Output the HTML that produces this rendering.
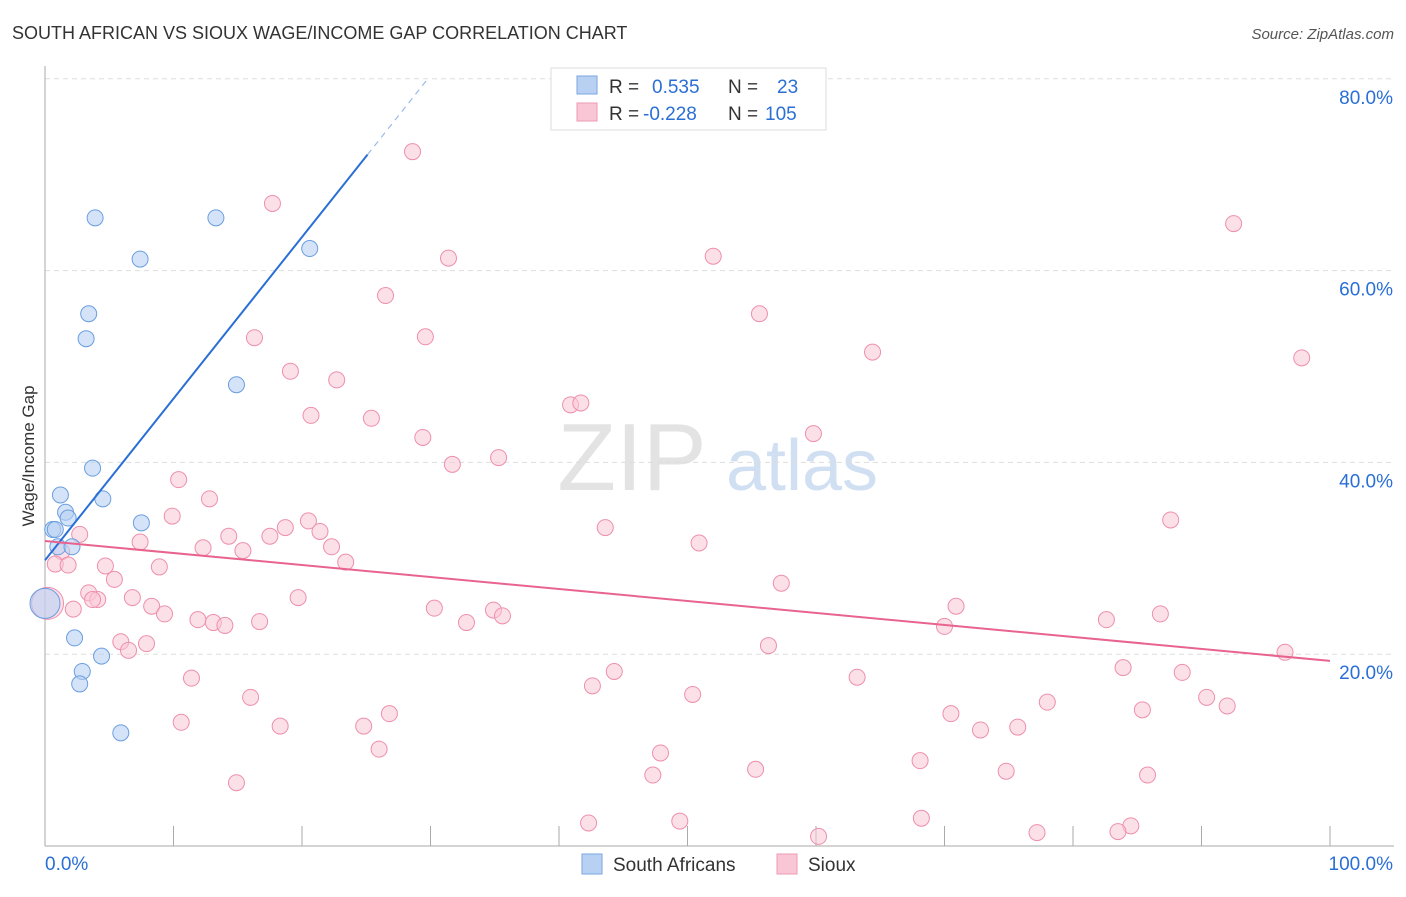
<!DOCTYPE html>
<html><head><meta charset="utf-8"><style>
body{margin:0;background:#fff;font-family:"Liberation Sans",sans-serif}
svg text{font-family:"Liberation Sans",sans-serif}
</style></head><body>
<svg id="chart" width="1406" height="892" viewBox="0 0 1406 892" xmlns="http://www.w3.org/2000/svg">
<text x="12" y="39" font-size="18" fill="#333">SOUTH AFRICAN VS SIOUX WAGE/INCOME GAP CORRELATION CHART</text>
<text x="1394" y="39" font-size="15" fill="#555" text-anchor="end" font-style="italic">Source: ZipAtlas.com</text>
<g>
<text x="632" y="490" font-size="96" fill="#ddd" text-anchor="middle" font-family="Liberation Serif" opacity="0.8">ZIP</text>
<text x="802" y="490" font-size="72" fill="#c5d8ef" text-anchor="middle" opacity="0.8">atlas</text>
</g>
<g id="grid"></g>
<g id="axes"></g>
<g id="pts"></g>
<g id="trends"></g>
<text transform="translate(34,456) rotate(-90)" font-size="17" fill="#333" text-anchor="middle">Wage/Income Gap</text>
<g>
<rect x="551" y="68" width="275" height="62" fill="#fff" stroke="#ddd"/>
<g>
<rect x="577" y="76" width="20" height="18" fill="#b8d1f3" stroke="#7aa6e0"/>
<text x="609" y="93" font-size="19" fill="#333">R =</text>
<text x="652" y="93" font-size="19" fill="#2a6fd6">0.535</text>
<text x="728" y="93" font-size="19" fill="#333">N =</text>
<text x="777" y="93" font-size="19" fill="#2a6fd6">23</text>
</g>
<g>
<rect x="577" y="103" width="20" height="18" fill="#f9c6d5" stroke="#ee9ab3"/>
<text x="609" y="120" font-size="19" fill="#333">R =</text>
<text x="643" y="120" font-size="19" fill="#2a6fd6">-0.228</text>
<text x="728" y="120" font-size="19" fill="#333">N =</text>
<text x="765" y="120" font-size="19" fill="#2a6fd6">105</text>
</g>
</g>
<g>
<rect x="582" y="854" width="20" height="20" fill="#b8d1f3" stroke="#7aa6e0"/>
<text x="613" y="871" font-size="19" fill="#333">South Africans</text>
<rect x="777" y="854" width="20" height="20" fill="#f9c6d5" stroke="#ee9ab3"/>
<text x="808" y="871" font-size="19" fill="#333">Sioux</text>
</g>
</svg>
<script>
const xTicks=[0,10,20,30,40,50,60,70,80,90,100];
const yTicks=[20,40,60,80];
const saX=[3.9,13.3,7.4,20.6,3.4,3.2,14.9,3.7,1.2,4.5,1.6,1.8,7.5,0.6,0.8,1.0,2.1,0,2.3,4.4,2.9,2.7,5.9];
const saY=[65.5,65.5,61.2,62.3,55.5,52.9,48.1,39.4,36.6,36.2,34.8,34.2,33.7,33.0,33.0,31.2,31.2,25.3,21.7,19.8,18.2,16.9,11.8];
const sxX=[28.6,17.7,92.5,52.0,31.4,26.5,55.6,16.3,29.6,64.4,97.8,19.1,22.7,40.9,41.7,20.7,25.4,59.8,29.4,35.3,31.7,10.4,12.8,9.9,87.6,20.5,2.7,18.7,43.6,14.3,21.4,17.5,7.4,50.9,22.3,12.3,15.4,1.3,23.4,0.8,1.8,4.7,8.9,5.4,57.3,3.4,4.1,3.7,6.8,19.7,8.3,2.2,70.9,30.3,34.9,35.6,9.3,11.9,86.8,82.6,32.8,13.1,14.0,16.7,70.0,5.9,7.9,6.5,56.3,96.5,44.3,83.9,88.5,63.2,11.4,42.6,50.4,16.0,78.0,90.4,92.0,85.4,26.8,70.5,10.6,18.3,24.8,72.8,75.7,26.0,47.9,68.1,55.3,74.8,47.3,85.8,14.9,68.2,42.3,49.4,84.5,77.2,83.5,60.2,0.2];
const sxY=[72.4,67.0,64.9,61.5,61.3,57.4,55.5,53.0,53.1,51.5,50.9,49.5,48.6,46.0,46.2,44.9,44.6,43.0,42.6,40.5,39.8,38.2,36.2,34.4,34.0,33.9,32.5,33.2,33.2,32.3,32.8,32.3,31.7,31.6,31.2,31.1,30.8,30.7,29.6,29.4,29.3,29.2,29.1,27.8,27.4,26.4,25.7,25.7,25.9,25.9,25.0,24.7,25.0,24.8,24.6,24.0,24.2,23.6,24.2,23.6,23.3,23.3,23.0,23.4,22.9,21.3,21.1,20.4,20.9,20.2,18.2,18.6,18.1,17.6,17.5,16.7,15.8,15.5,15.0,15.5,14.6,14.2,13.8,13.8,12.9,12.5,12.5,12.1,12.4,10.1,9.7,8.9,8.0,7.8,7.4,7.4,6.6,2.9,2.4,2.6,2.1,1.4,1.5,1.0,25.3];
const saTrend=[29.8,1.685];
const sxTrend=[31.8,-0.125];
const X=v=>45+v*12.85, Y=v=>846-v*9.59;
const NS="http://www.w3.org/2000/svg";
function mk(parent,tag,attrs){const e=document.createElementNS(NS,tag);for(const k in attrs)e.setAttribute(k,attrs[k]);document.getElementById(parent).appendChild(e);return e;}
yTicks.forEach(t=>{
 let l=mk('grid','line',{x1:45,x2:1394,y1:Y(t),y2:Y(t),stroke:'#ddd','stroke-dasharray':'5,4'});
 
 
 let tx=mk('grid','text',{x:1393,y:Y(t)+25,'font-size':19,fill:'#2a6fd6','text-anchor':'end'});
 tx.textContent=t.toFixed(1)+'%';
 
 
});
let ax=mk('axes','line',{x1:45,x2:1394,y1:846,y2:846,stroke:'#aaa'});


let ay=mk('axes','line',{x1:45,x2:45,y1:66,y2:846,stroke:'#aaa'});


xTicks.forEach(t=>{
 let l=mk('axes','line',{x1:X(t),x2:X(t),y1:826,y2:846,stroke:'#aaa'});
 
 
});
let x0=mk('axes','text',{x:45,y:870,'font-size':19,fill:'#2a6fd6'});x0.textContent='0.0%';


let x1=mk('axes','text',{x:1393,y:870,'font-size':19,fill:'#2a6fd6','text-anchor':'end'});x1.textContent='100.0%';


sxX.forEach((v,i)=>{
 const big=(v<0.5&&Math.abs(sxY[i]-25.3)<0.2);
 let c=mk('pts','circle',{cx:X(v),cy:Y(sxY[i]),r:big?16:8,fill:'#f9c6d5','fill-opacity':0.55,stroke:'#ee8fac','stroke-width':1});
 
 
});
saX.forEach((v,i)=>{
 const big=(v===0);
 let c=mk('pts','circle',{cx:X(v),cy:Y(saY[i]),r:big?15:8,fill:'#b8d1f3','fill-opacity':0.6,stroke:'#6a9ee0','stroke-width':1});
 
 
});
const xs=25.1, xe=(80-saTrend[0])/saTrend[1];
let t1=mk('trends','line',{x1:X(0),y1:Y(saTrend[0]),x2:X(xs),y2:Y(saTrend[0]+saTrend[1]*xs),stroke:'#2a6fd6','stroke-width':2});


let t2=mk('trends','line',{x1:X(xs),y1:Y(saTrend[0]+saTrend[1]*xs),x2:X(xe),y2:Y(80),stroke:'#9bbbe8','stroke-width':1.2,'stroke-dasharray':'6,5'});


let t3=mk('trends','line',{x1:X(0),y1:Y(sxTrend[0]),x2:X(100),y2:Y(sxTrend[0]+sxTrend[1]*100),stroke:'#e8648f','stroke-width':2});


</script>
</body></html>
